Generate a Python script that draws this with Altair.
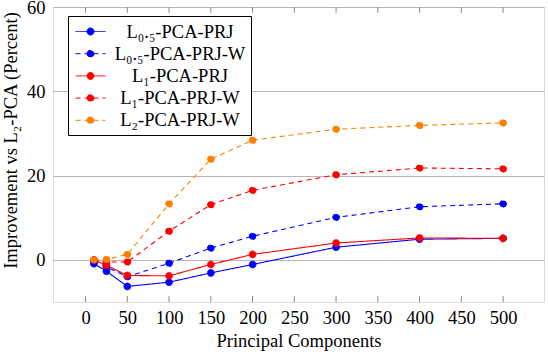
import altair as alt
import pandas as pd

components = [10, 25, 50, 100, 150, 200, 300, 400, 500]
series_names = ["L₀.₅-PCA-PRJ", "L₀.₅-PCA-PRJ-W", "L₁-PCA-PRJ", "L₁-PCA-PRJ-W", "L₂-PCA-PRJ-W"]
l05_prj = [-0.9, -2.7, -6.3, -5.3, -3.1, -1.1, 3.0, 4.9, 5.1]
l05_prj_w = [-0.2, -1.7, -4.0, -0.8, 2.8, 5.6, 10.1, 12.6, 13.3]
l1_prj = [0.0, -1.3, -3.7, -3.8, -1.1, 1.3, 4.0, 5.2, 5.1]
l1_prj_w = [0.0, -0.5, -0.5, 6.8, 13.1, 16.5, 20.2, 21.8, 21.6]
l2_prj_w = [0.0, 0.1, 1.3, 13.3, 23.9, 28.4, 31.0, 31.9, 32.5]
series_values = [l05_prj, l05_prj_w, l1_prj, l1_prj_w, l2_prj_w]
colors = ["#0000ff", "#0000ff", "#ff0000", "#ff0000", "#ff8000"]
dashes = [[1, 0], [5, 4], [1, 0], [5, 4], [5, 4]]
x_ticks = [0, 50, 100, 150, 200, 250, 300, 350, 400, 450, 500]
y_ticks = [0, 20, 40, 60]

rows = []
for name, vals in zip(series_names, series_values):
    for x, v in zip(components, vals):
        rows.append({"series": name, "pc": x, "value": v})
df = pd.DataFrame(rows)

xscale = alt.Scale(domain=[-39, 549], nice=False, zero=False)
yscale = alt.Scale(domain=[-10, 60], nice=False, zero=False)
cscale = alt.Scale(domain=series_names, range=colors)
dscale = alt.Scale(domain=series_names, range=dashes)

FONT = "Liberation Serif"
FS = 18.5

xaxis = alt.Axis(values=x_ticks, title="Principal Components", ticks=False, domain=False,
                 grid=False, labelFont=FONT, labelFontSize=FS, labelColor="black",
                 labelPadding=6, titleFont=FONT, titleFontSize=FS, titleFontWeight="normal",
                 titleColor="black", titlePadding=5)
yaxis = alt.Axis(values=y_ticks, title="Improvement vs L₂-PCA (Percent)", ticks=False,
                 domain=False, grid=True, gridColor="#b5b5b5", gridWidth=1,
                 labelFont=FONT, labelFontSize=FS, labelColor="black", labelPadding=8,
                 titleFont=FONT, titleFontSize=FS, titleFontWeight="normal",
                 titleColor="black", titleX=-43, titleY=133, titleAngle=270,
                 titleAlign="center", titleBaseline="middle")

legend_symbol = "M-0.8,0H2.2M0.35,0A0.35,0.35 0 1 1 1.05,0A0.35,0.35 0 1 1 0.35,0Z"
legend = alt.Legend(title=None, orient="none", legendX=15, legendY=9,
                    symbolType=legend_symbol, symbolSize=400, symbolStrokeWidth=1,
                    labelFont=FONT, labelFontSize=FS, labelColor="black",
                    labelAlign="center", labelOffset=86, labelLimit=300,
                    rowPadding=2.2, padding=5, strokeColor="black", fillColor="white",
                    cornerRadius=0)

base = alt.Chart(df).encode(
    x=alt.X("pc:Q", scale=xscale, axis=xaxis),
    y=alt.Y("value:Q", scale=yscale, axis=yaxis),
)

points = base.mark_point(filled=True, size=45, opacity=1, strokeWidth=1).encode(
    color=alt.Color("series:N", scale=cscale, legend=legend, sort=series_names),
    stroke=alt.Stroke("series:N", scale=cscale, legend=legend, sort=series_names),
    strokeDash=alt.StrokeDash("series:N", scale=dscale, legend=legend, sort=series_names),
)
lines = base.mark_line(strokeWidth=1.1).encode(
    color=alt.Color("series:N", scale=cscale, legend=legend, sort=series_names),
    strokeDash=alt.StrokeDash("series:N", scale=dscale, legend=legend, sort=series_names),
    detail="series:N",
)

tick_df = pd.DataFrame({"t": x_ticks})
bottom_ticks = alt.Chart(tick_df).mark_rule(color="#888888", strokeWidth=1).encode(
    x=alt.X("t:Q", scale=xscale), y=alt.datum(-10, scale=yscale), y2=alt.datum(-8.6)
)
top_ticks = alt.Chart(tick_df).mark_rule(color="#888888", strokeWidth=1).encode(
    x=alt.X("t:Q", scale=xscale), y=alt.datum(60, scale=yscale), y2=alt.datum(58.6)
)

chart = alt.layer(bottom_ticks, top_ticks, lines, points).properties(
    width=491, height=295,
    autosize=alt.AutoSizeParams(type="none"),
    padding={"left": 53, "top": 7, "right": 4, "bottom": 52},
).configure_view(stroke="black", strokeWidth=1).configure(background="white")

chart.save("out.html", embed_options={"renderer": "svg", "actions": False})
